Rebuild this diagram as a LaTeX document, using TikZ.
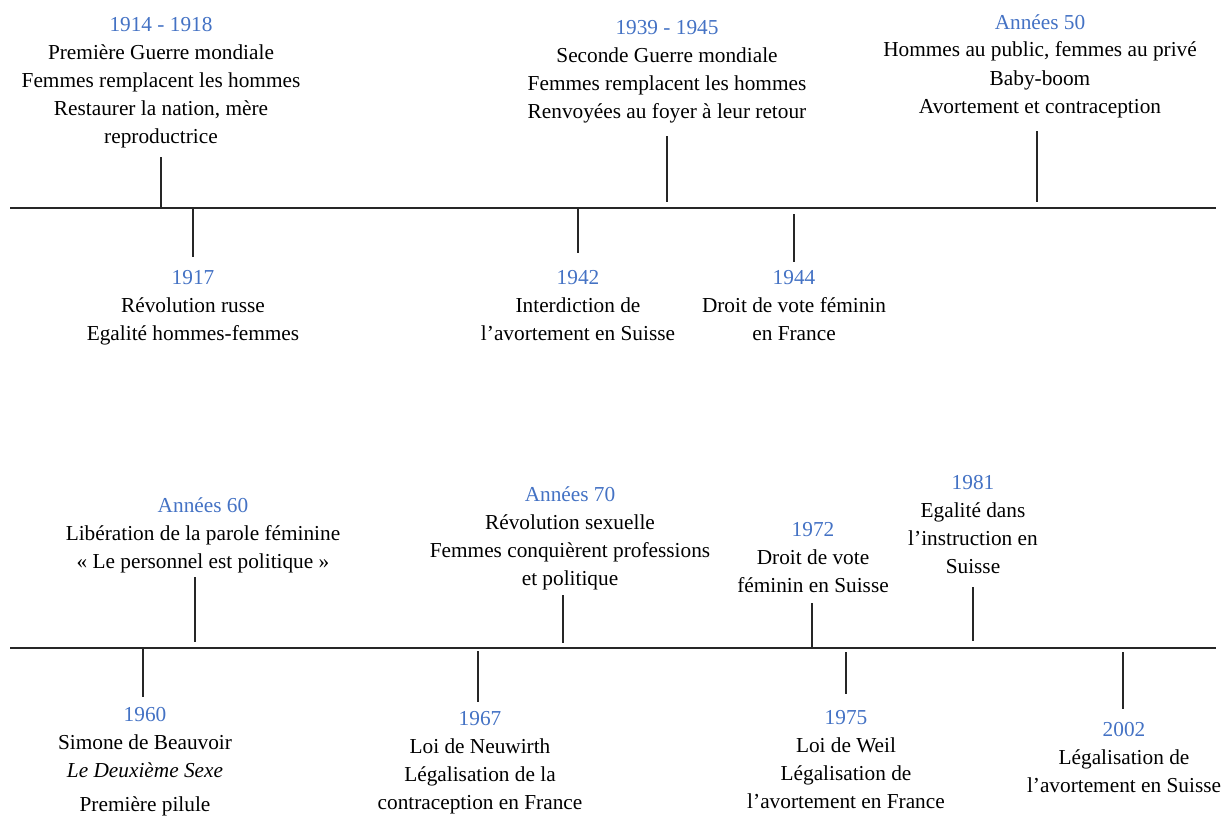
\documentclass[tikz,border=0pt]{standalone}
\usepackage{fontspec}
\setmainfont{Liberation Serif}
\definecolor{yearblue}{HTML}{4472C4}
\definecolor{linegray}{HTML}{262626}
\tikzset{
  evt/.style={font=\fontsize{21.3}{28}\selectfont, align=center, inner sep=0pt, anchor=base, text=black},
  axis/.style={draw=linegray, line width=2.6pt},
  tick/.style={draw=linegray, line width=2.2pt}
}
\newcommand{\yr}[1]{\textcolor{yearblue}{#1}}
\begin{document}
\begin{tikzpicture}[x=1pt,y=-1pt]
\useasboundingbox (0,0) rectangle (1231,816);
% timelines
\coordinate (tl) at (10,208);
\coordinate (tr) at (1216,208);
\coordinate (bl) at (10,648);
\coordinate (br) at (1216,648);
\draw[axis] (tl) -- (tr);
\draw[axis] (bl) -- (br);

% top events (y = baseline of last line)
\node[evt] (a) at (161,143) {\yr{1914 - 1918}\\Première Guerre mondiale\\Femmes remplacent les hommes\\Restaurer la nation, mère\\reproductrice};
\node[evt] (b) at (667,118) {\yr{1939 - 1945}\\Seconde Guerre mondiale\\Femmes remplacent les hommes\\Renvoyées au foyer à leur retour};
\node[evt] (c) at (1040,113) {\yr{Années 50}\\Hommes au public, femmes au privé\\Baby-boom\\Avortement et contraception};
\node[evt] (d) at (193,340) {\yr{1917}\\Révolution russe\\Egalité hommes-femmes};
\node[evt] (e) at (578,340) {\yr{1942}\\Interdiction de\\l’avortement en Suisse};
\node[evt] (f) at (794,340) {\yr{1944}\\Droit de vote féminin\\en France};

% bottom events
\node[evt] (g) at (203,568) {\yr{Années 60}\\Libération de la parole féminine\\«~Le personnel est politique~»};
\node[evt] (h) at (570,585) {\yr{Années 70}\\Révolution sexuelle\\Femmes conquièrent professions\\et politique};
\node[evt] (i) at (813,592) {\yr{1972}\\Droit de vote\\féminin en Suisse};
\node[evt] (j) at (973,573) {\yr{1981}\\Egalité dans\\l’instruction en\\Suisse};
\node[evt] (k) at (145,811) {\yr{1960}\\Simone de Beauvoir\\\textit{Le Deuxième Sexe}\\[6pt]Première pilule};
\node[evt] (l) at (480,809) {\yr{1967}\\Loi de Neuwirth\\Légalisation de la\\contraception en France};
\node[evt] (m) at (846,808) {\yr{1975}\\Loi de Weil\\Légalisation de\\l’avortement en France};
\node[evt] (n) at (1124,792) {\yr{2002}\\Légalisation de\\l’avortement en Suisse};

% ticks top
\coordinate (a1) at (161,157); \coordinate (a2) at (161,207);
\coordinate (b1) at (667,136); \coordinate (b2) at (667,202);
\coordinate (c1) at (1037,131); \coordinate (c2) at (1037,202);
\coordinate (d1) at (193,209); \coordinate (d2) at (193,257);
\coordinate (e1) at (578,209); \coordinate (e2) at (578,253);
\coordinate (f1) at (794,214); \coordinate (f2) at (794,262);
\draw[tick] (a1) -- (a2);
\draw[tick] (b1) -- (b2);
\draw[tick] (c1) -- (c2);
\draw[tick] (d1) -- (d2);
\draw[tick] (e1) -- (e2);
\draw[tick] (f1) -- (f2);

% ticks bottom
\coordinate (g1) at (195,577); \coordinate (g2) at (195,642);
\coordinate (h1) at (563,595); \coordinate (h2) at (563,643);
\coordinate (i1) at (812,603); \coordinate (i2) at (812,648);
\coordinate (j1) at (973,587); \coordinate (j2) at (973,641);
\coordinate (k1) at (143,649); \coordinate (k2) at (143,697);
\coordinate (l1) at (478,651); \coordinate (l2) at (478,702);
\coordinate (m1) at (846,652); \coordinate (m2) at (846,694);
\coordinate (n1) at (1123,652); \coordinate (n2) at (1123,709);
\draw[tick] (g1) -- (g2);
\draw[tick] (h1) -- (h2);
\draw[tick] (i1) -- (i2);
\draw[tick] (j1) -- (j2);
\draw[tick] (k1) -- (k2);
\draw[tick] (l1) -- (l2);
\draw[tick] (m1) -- (m2);
\draw[tick] (n1) -- (n2);
\end{tikzpicture}
\end{document}
